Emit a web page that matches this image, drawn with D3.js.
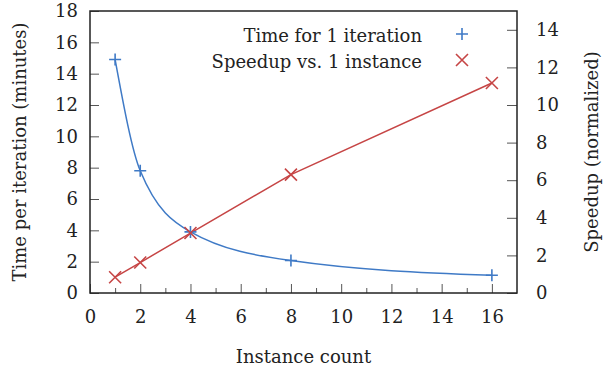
<!DOCTYPE html>
<html>
<head>
<meta charset="utf-8">
<script src="https://cdn.jsdelivr.net/npm/d3@7"></script>
<style>
  body { margin: 0; background: #fff; }
  svg text { font-family: "DejaVu Serif", serif; fill: #222; }
</style>
</head>
<body>
<svg id="chart" width="603" height="373"></svg>
<script>
// Datos
const instances = [1, 2, 4, 8, 16];
const timePerIter = [14.9, 7.8, 3.9, 2.07, 1.13];
const speedup = [0.84, 1.62, 3.19, 6.3, 11.17];
const xTicks = [0, 2, 4, 6, 8, 10, 12, 14, 16];
const yLeftTicks = [0, 2, 4, 6, 8, 10, 12, 14, 16, 18];
const yRightTicks = [0, 2, 4, 6, 8, 10, 12, 14];
const legendLabels = ['Time for 1 iteration', 'Speedup vs. 1 instance'];

const blue = '#3f7ac6';
const red = '#c64545';
const fontSize = 18;

const svg = d3.select('#chart');
const plotL = 90, plotR = 517, plotT = 11, plotB = 293;

const x = d3.scaleLinear().domain([0, 17]).range([plotL, plotR]);
const yL = d3.scaleLinear().domain([0, 18]).range([plotB, plotT]);
const yR = d3.scaleLinear().domain([0, 15]).range([plotB, plotT]);

// Ejes
svg.append('g').attr('transform', `translate(0,${plotB})`)
  .call(d3.axisBottom(x).tickValues(xTicks).tickSizeInner(-9).tickSizeOuter(0).tickPadding(17));
svg.append('g').attr('transform', `translate(0,${plotB})`)
  .call(d3.axisBottom(x).tickValues(d3.range(1, 17, 2)).tickSizeInner(-5).tickSizeOuter(0).tickFormat(''));
svg.append('g').attr('transform', `translate(${plotL},0)`)
  .call(d3.axisLeft(yL).tickValues(yLeftTicks).tickSizeInner(-9).tickSizeOuter(0).tickPadding(12));
svg.append('g').attr('transform', `translate(${plotR},0)`)
  .call(d3.axisRight(yR).tickValues(yRightTicks).tickSizeInner(-10).tickSizeOuter(0).tickPadding(19));

svg.selectAll('.tick text').style('font-size', fontSize + 'px').style('font-family', '"DejaVu Serif", serif').attr('fill', '#222');
svg.selectAll('.tick line').attr('stroke', '#555');
svg.selectAll('.domain').remove();

// Marco
svg.append('rect')
  .attr('x', plotL).attr('y', plotT)
  .attr('width', plotR - plotL).attr('height', plotB - plotT)
  .attr('fill', 'none').attr('stroke', '#222').attr('stroke-width', 1.5);

// Títulos de ejes
svg.append('text')
  .attr('x', (plotL + plotR) / 2 + 0).attr('y', 363)
  .attr('text-anchor', 'middle').style('font-size', fontSize + 'px')
  .text('Instance count');
svg.append('text')
  .attr('transform', `translate(26,152) rotate(-90)`)
  .attr('text-anchor', 'middle').style('font-size', fontSize + 'px')
  .text('Time per iteration (minutes)');
svg.append('text')
  .attr('transform', `translate(598,152) rotate(-90)`)
  .attr('text-anchor', 'middle').style('font-size', fontSize + 'px')
  .text('Speedup (normalized)');

// Series
const timeData = instances.map((d, i) => ({ x: d, y: timePerIter[i] }));
const speedData = instances.map((d, i) => ({ x: d, y: speedup[i] }));

svg.append('path')
  .datum(timeData)
  .attr('fill', 'none').attr('stroke', blue).attr('stroke-width', 1.5)
  .attr('d', d3.line().x(d => x(d.x)).y(d => yL(d.y)).curve(d3.curveMonotoneX));

svg.append('path')
  .datum(speedData)
  .attr('fill', 'none').attr('stroke', red).attr('stroke-width', 1.5)
  .attr('d', d3.line().x(d => x(d.x)).y(d => yR(d.y)));

function plus(g, cx, cy, s, color) {
  g.append('path')
    .attr('d', `M${cx - s},${cy}H${cx + s}M${cx},${cy - s}V${cy + s}`)
    .attr('stroke', color).attr('stroke-width', 1.6).attr('fill', 'none');
}
function cross(g, cx, cy, s, color) {
  g.append('path')
    .attr('d', `M${cx - s},${cy - s}L${cx + s},${cy + s}M${cx - s},${cy + s}L${cx + s},${cy - s}`)
    .attr('stroke', color).attr('stroke-width', 1.6).attr('fill', 'none');
}

const marks = svg.append('g');
timeData.forEach(d => plus(marks, x(d.x), yL(d.y), 6, blue));
speedData.forEach(d => cross(marks, x(d.x), yR(d.y), 6, red));

// Leyenda
const legend = svg.append('g');
legendLabels.forEach((label, i) => {
  const ly = 34 + i * 26;
  legend.append('text')
    .attr('x', 422).attr('y', ly + 8)
    .attr('text-anchor', 'end').style('font-size', fontSize + 'px')
    .text(label);
  if (i === 0) plus(legend, 462, ly, 6, blue);
  else cross(legend, 462, ly, 6, red);
});
</script>
</body>
</html>
